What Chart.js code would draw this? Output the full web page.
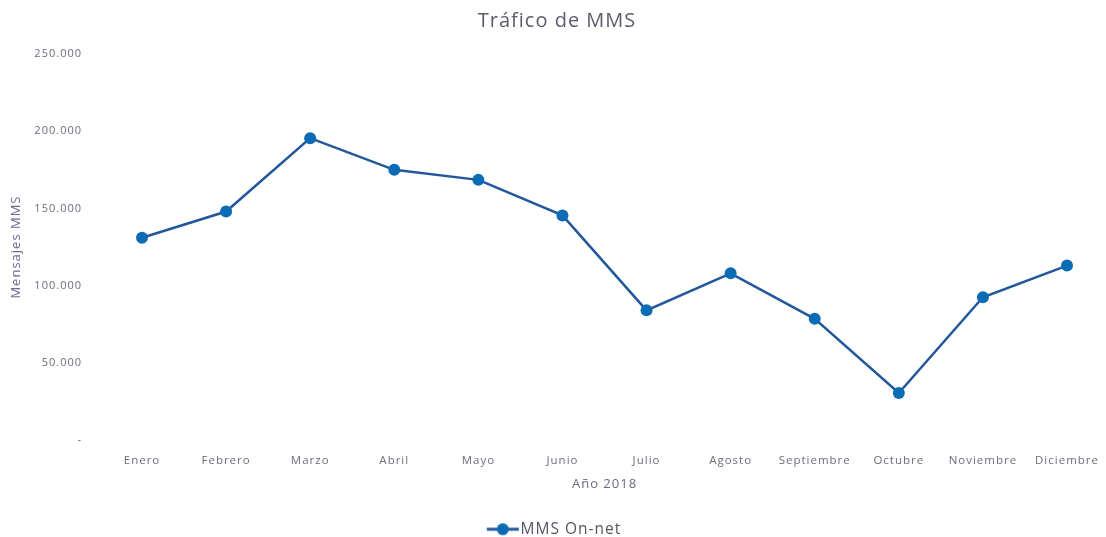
<!DOCTYPE html>
<html>
<head>
<meta charset="utf-8">
<script src="https://cdn.jsdelivr.net/npm/chart.js@4/dist/chart.umd.min.js"></script>
<style>
  html, body { margin: 0; padding: 0; background: #fff; }
  #wrap { width: 1106px; height: 537px; }
</style>
</head>
<body>
<div id="wrap"><canvas id="mmsChart"></canvas></div>
<script>
// Data
const months = ["Enero", "Febrero", "Marzo", "Abril", "Mayo", "Junio", "Julio",
  "Agosto", "Septiembre", "Octubre", "Noviembre", "Diciembre"];
const mmsOnNet = [131000, 148000, 195500, 175000, 168500, 145500, 84000,
  108000, 78500, 30500, 92500, 113000];
const yTicks = [0, 50000, 100000, 150000, 200000, 250000];

const lineColor = "#22579b";
const dotColor = "#0b6cb5";

// legend marker: short line with a dot in the middle
function legendMarker() {
  const c = document.createElement("canvas");
  c.width = 34;
  c.height = 14;
  const g = c.getContext("2d");
  g.strokeStyle = lineColor;
  g.lineWidth = 3;
  g.beginPath();
  g.moveTo(1, 7);
  g.lineTo(33, 7);
  g.stroke();
  g.fillStyle = dotColor;
  g.beginPath();
  g.arc(17, 7, 6, 0, Math.PI * 2);
  g.fill();
  return c;
}
const marker = legendMarker();

function fmt(v) {
  if (v === 0) return "-";
  return v.toString().replace(/\B(?=(\d{3})+(?!\d))/g, ".");
}

// the original text is a bit spaced out
const spacing = {
  id: "spacing",
  beforeUpdate(chart) { chart.ctx.letterSpacing = "1px"; },
  beforeDraw(chart) { chart.ctx.letterSpacing = "1px"; }
};

// big tick paddings would otherwise push the whole layout around
function noEdgePadding(axis) {
  axis.paddingTop = 0;
  axis.paddingBottom = 0;
  axis.paddingLeft = 0;
  axis.paddingRight = 0;
}

new Chart(document.getElementById("mmsChart"), {
  type: "line",
  data: {
    labels: months,
    datasets: [{
      label: "MMS On-net",
      data: mmsOnNet,
      borderColor: lineColor,
      backgroundColor: dotColor,
      borderWidth: 2.5,
      pointRadius: 6,
      pointBackgroundColor: dotColor,
      pointBorderWidth: 0,
      tension: 0
    }]
  },
  plugins: [spacing],
  options: {
    responsive: true,
    maintainAspectRatio: false,
    animation: false,
    layout: { padding: { left: 8, right: 0, top: 0, bottom: -10 } },
    plugins: {
      title: {
        display: true,
        text: "Tráfico de MMS",
        color: "#5b5b6b",
        font: { family: "Open Sans", size: 20, weight: "normal" },
        padding: { top: 9, bottom: 21 }
      },
      legend: {
        position: "bottom",
        labels: {
          usePointStyle: true,
          pointStyleWidth: 20,
          color: "#555560",
          font: { family: "Open Sans", size: 15.5 },
          padding: 10,
          generateLabels: function (chart) {
            const items = Chart.defaults.plugins.legend.labels.generateLabels(chart);
            items.forEach(it => { it.pointStyle = marker; });
            return items;
          }
        }
      },
      tooltip: { enabled: false }
    },
    scales: {
      x: {
        offset: false,
        grid: { display: false, drawTicks: false },
        border: { display: false },
        afterFit: noEdgePadding,
        ticks: {
          color: "#6d6d7d",
          font: { family: "Open Sans", size: 11.5 },
          padding: 14,
          maxRotation: 0,
          autoSkip: false
        },
        title: {
          display: true,
          text: "Año 2018",
          color: "#6a6880",
          font: { family: "Open Sans", size: 13 },
          padding: { top: -5, bottom: 19 }
        }
      },
      y: {
        min: 0,
        max: 250000,
        grid: { display: false, drawTicks: false },
        border: { display: false },
        afterBuildTicks: function (axis) {
          axis.ticks = yTicks.map(v => ({ value: v }));
        },
        afterFit: function (axis) {
          axis.width = 134;
          noEdgePadding(axis);
        },
        ticks: {
          color: "#6d6d7d",
          font: { family: "Open Sans", size: 11 },
          padding: 60,
          callback: v => fmt(v)
        },
        title: {
          display: true,
          text: "Mensajes MMS",
          color: "#6e6a8e",
          font: { family: "Open Sans", size: 13 },
          padding: { top: 0, bottom: 0 }
        }
      },
      // empty right-hand strip so the last month sits where it does in the original
      yRight: {
        position: "right",
        min: 0,
        max: 250000,
        grid: { display: false, drawTicks: false },
        border: { display: false },
        ticks: { display: false },
        afterFit: function (axis) {
          axis.width = 39;
          noEdgePadding(axis);
        }
      }
    }
  }
});
</script>
</body>
</html>
